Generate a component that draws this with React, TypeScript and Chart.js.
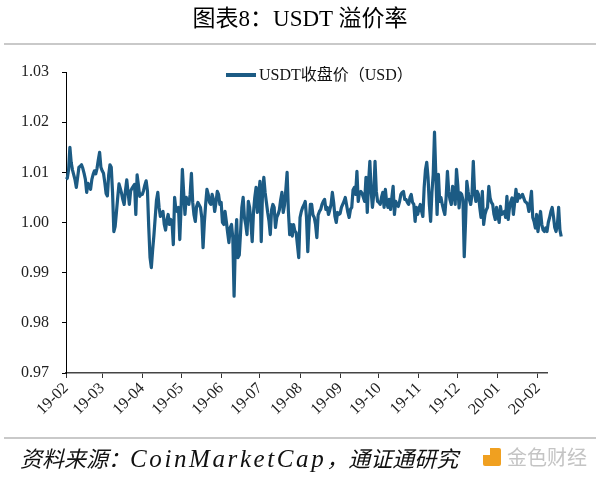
import React, { useEffect, useRef } from "react";
import { Chart, registerables } from "chart.js";

Chart.register(...registerables);

const titleText = "图表8：USDT 溢价率";
const seriesLabel = "USDT收盘价（USD）";
const sourceCjkA = "资料来源：";
const sourceLatin = "CoinMarketCap";
const sourceCjkB = "，通证通研究";
const watermarkText = "金色财经";

const startDate = "2019-02-01";
const axisEndDate = "2020-02-08";
const monthTickDates = [
  "2019-02-01", "2019-03-01", "2019-04-01", "2019-05-01", "2019-06-01", "2019-07-01", "2019-08-01",
  "2019-09-01", "2019-10-01", "2019-11-01", "2019-12-01", "2020-01-01", "2020-02-01",
];
const monthTickLabels = [
  "19-02", "19-03", "19-04", "19-05", "19-06", "19-07", "19-08",
  "19-09", "19-10", "19-11", "19-12", "20-01", "20-02",
];

const yMin = 0.97;
const yMax = 1.03;
const yStep = 0.01;

// daily closing price of USDT (USD), one value per day from 2019-02-01
const feb19 = [1.0086, 1.0088, 1.0105, 1.015, 1.012, 1.0105, 1.0095, 1.0085, 1.007, 1.009, 1.011, 1.0112, 1.0115, 1.0108, 1.0098, 1.0086, 1.006, 1.0078, 1.0072, 1.0066, 1.0086, 1.0096, 1.0103, 1.0097, 1.0108, 1.0125, 1.014, 1.011];
const mar19 = [1.0103, 1.0098, 1.008, 1.0058, 1.0053, 1.0095, 1.0115, 1.011, 1.006, 0.9982, 0.9992, 1.002, 1.005, 1.0077, 1.0068, 1.0058, 1.0045, 1.0036, 1.0064, 1.0085, 1.006, 1.0036, 1.0063, 1.0068, 1.0072, 1.0076, 1.0016, 1.0095, 1.0075, 1.0052, 1.0056];
const apr19 = [1.0056, 1.0064, 1.0075, 1.0083, 1.0063, 0.999, 0.993, 0.991, 0.9945, 0.9975, 1.001, 1.0045, 1.006, 1.003, 1.0012, 1.0018, 1.0022, 0.9996, 0.9985, 1.0005, 1.0016, 0.9996, 1.0006, 1.0, 0.9956, 1.005, 1.0025, 1.0022, 1.003, 0.9966];
const may19 = [1.003, 1.0106, 1.006, 1.0016, 1.005, 1.004, 1.0036, 1.0056, 1.0098, 1.004, 1.0015, 1.0002, 1.0032, 1.004, 1.0035, 1.003, 1.001, 0.995, 1.0, 1.0036, 1.0066, 1.0056, 1.004, 1.0036, 1.0056, 1.0046, 1.0022, 1.004, 1.0062, 1.0056, 1.0036];
const jun19 = [1.004, 1.0, 0.9996, 1.0022, 1.0002, 0.998, 0.996, 0.999, 0.9996, 0.997, 0.9853, 0.996, 1.0006, 0.993, 0.9935, 0.998, 1.003, 1.005, 1.001, 0.9996, 0.9976, 1.0042, 1.003, 1.0, 0.9962, 1.002, 1.005, 1.007, 1.002, 1.0056];
const jul19 = [1.0082, 0.9962, 1.0062, 1.009, 1.006, 1.004, 1.002, 1.0003, 0.9976, 1.0025, 1.0036, 1.003, 0.999, 1.001, 1.0016, 1.0025, 1.0045, 1.006, 1.002, 1.0035, 1.0065, 1.01, 1.0022, 0.9976, 0.9996, 0.9973, 0.9996, 0.9983, 0.998, 0.9955, 0.993];
const aug19 = [1.001, 1.0022, 1.003, 1.0035, 1.0042, 1.001, 0.9942, 1.0, 1.0036, 1.0036, 1.0015, 1.001, 0.9996, 0.997, 1.0015, 1.0022, 1.0026, 1.0036, 1.0042, 1.0046, 1.0026, 1.003, 1.0016, 1.0025, 1.0036, 1.006, 1.004, 1.0012, 1.0, 1.002, 1.0016];
const sep19 = [1.0018, 1.003, 1.0036, 1.0042, 1.005, 1.0035, 1.002, 1.001, 1.0026, 1.003, 1.0065, 1.007, 1.0056, 1.0102, 1.0042, 1.006, 1.0062, 1.0058, 1.005, 1.0042, 1.009, 1.002, 1.008, 1.0122, 1.0062, 1.003, 1.0056, 1.0122, 1.0062, 1.0042];
const oct19 = [1.004, 1.0036, 1.005, 1.006, 1.003, 1.0066, 1.004, 1.003, 1.0046, 1.0026, 1.005, 1.0072, 1.0016, 1.0042, 1.0036, 1.0032, 1.0042, 1.0056, 1.006, 1.0062, 1.0046, 1.0046, 1.004, 1.0036, 1.005, 1.0056, 1.004, 1.0036, 1.0002, 1.003, 1.0016];
const nov19 = [1.0028, 1.0036, 1.0022, 1.0012, 1.007, 1.0105, 1.012, 1.009, 1.0036, 1.0002, 1.006, 1.0096, 1.018, 1.0096, 1.0016, 1.0096, 1.0042, 1.005, 1.0036, 1.0025, 1.0016, 1.005, 1.0102, 1.0062, 1.0045, 1.0036, 1.0072, 1.0062, 1.0036, 1.0106];
const dec19 = [1.0075, 1.0029, 1.0059, 1.0056, 1.0045, 0.9932, 1.0, 1.0082, 1.0062, 1.0045, 1.0036, 1.0056, 1.0122, 1.006, 1.0042, 1.0062, 1.0056, 1.003, 1.001, 1.0062, 0.9996, 1.0016, 1.0025, 1.003, 1.0072, 1.0049, 1.004, 1.0036, 1.0016, 1.0006, 1.003];
const jan20 = [1.0015, 1.0, 1.0032, 1.0016, 1.002, 1.0022, 1.001, 1.0052, 1.0006, 1.003, 1.0042, 1.0049, 1.0016, 1.004, 1.0066, 1.0042, 1.0056, 1.0049, 1.0052, 1.0056, 1.0049, 1.0042, 1.004, 1.0036, 1.0022, 1.0042, 1.0062, 1.001, 1.0002, 0.9989, 1.0016];
const feb20 = [0.9982, 1.0002, 1.0022, 0.9996, 0.9985, 0.9982, 0.9989, 0.9982, 1.0, 1.001, 1.0022, 1.003, 1.0012, 0.999, 0.9982, 0.9995, 1.003, 0.9985, 0.9972];

const usdtClose = [...feb19, ...mar19, ...apr19, ...may19, ...jun19, ...jul19, ...aug19, ...sep19, ...oct19, ...nov19, ...dec19, ...jan20, ...feb20];

const LINE_COLOR = "#1C5B84";
const SERIF = "'Liberation Serif', 'Times New Roman', 'Noto Sans CJK SC', serif";

const dayIndex = (d: string) => Math.round((Date.parse(d) - Date.parse(startDate)) / 86400000);

export default function App() {
  const ref = useRef<HTMLCanvasElement | null>(null);

  useEffect(() => {
    if (!ref.current) return;
    const tickDays = monthTickDates.map(dayIndex);
    const endDay = dayIndex(axisEndDate);
    const points = usdtClose.map((v, i) => ({ x: i, y: v }));

    const chart = new Chart(ref.current, {
      type: "line",
      data: {
        datasets: [
          {
            label: seriesLabel,
            data: points,
            borderColor: LINE_COLOR,
            backgroundColor: LINE_COLOR,
            borderWidth: 3.2,
            pointRadius: 0,
            tension: 0,
            clip: false as any,
            borderJoinStyle: "round",
          },
        ],
      },
      options: {
        animation: false,
        responsive: false,
        maintainAspectRatio: false,
        layout: { padding: { top: 72, right: 53, bottom: 0, left: 0 } },
        plugins: { legend: { display: false }, tooltip: { enabled: false }, title: { display: false } },
        scales: {
          x: {
            type: "linear",
            bounds: "data",
            afterDataLimits: (s: any) => {
              s.min = 0;
              s.max = endDay;
            },
            afterBuildTicks: (s: any) => {
              s.ticks = tickDays.map((v) => ({ value: v }));
            },
            afterFit: (s: any) => {
              s.height = 104;
            },
            ticks: {
              autoSkip: false,
              maxRotation: 45,
              minRotation: 45,
              padding: 1,
              color: "#222",
              font: { family: SERIF, size: 16 },
              callback: (v: any) => {
                const i = tickDays.indexOf(Number(v));
                return i >= 0 ? monthTickLabels[i] : "";
              },
            },
            grid: { drawOnChartArea: false, drawTicks: true, tickLength: 5, color: "#333", lineWidth: 1 },
            border: { display: true, color: "#444", width: 1.5 },
          },
          y: {
            min: yMin,
            max: yMax,
            afterFit: (s: any) => {
              s.width = 66;
            },
            ticks: {
              stepSize: yStep,
              padding: 13,
              color: "#222",
              font: { family: SERIF, size: 16 },
              callback: (v: any) => Number(v).toFixed(2),
            },
            grid: { drawOnChartArea: false, drawTicks: true, tickLength: 4, color: "#000", lineWidth: 1 },
            border: { display: true, color: "#000", width: 1 },
          },
        },
      },
    });
    return () => chart.destroy();
  }, []);

  return (
    <div style={{ position: "absolute", left: 0, top: 0, width: 600, height: 477, background: "#fff", overflow: "hidden" }}>
      <canvas ref={ref} width={600} height={477} style={{ position: "absolute", left: 0, top: 0, width: 600, height: 477 }} />
      <div
        style={{
          position: "absolute", left: 0, top: 5, width: 600, textAlign: "center",
          fontFamily: SERIF, fontSize: 23, lineHeight: "28px", color: "#000",
        }}
      >
        {titleText}
      </div>
      <div style={{ position: "absolute", left: 4, top: 43, width: 592, height: 2, background: "#c9c9c9" }} />
      <div style={{ position: "absolute", left: 226, top: 73, width: 30, height: 4, background: LINE_COLOR }} />
      <div
        style={{
          position: "absolute", left: 259, top: 66, fontFamily: SERIF, fontSize: 16,
          lineHeight: "18px", color: "#111", whiteSpace: "nowrap",
        }}
      >
        {seriesLabel}
      </div>
      <div style={{ position: "absolute", left: 4, top: 437, width: 592, height: 2, background: "#c9c9c9" }} />
      <div
        style={{
          position: "absolute", left: 20, top: 446, fontFamily: SERIF, fontSize: 22, fontStyle: "italic",
          lineHeight: "26px", color: "#111", whiteSpace: "nowrap",
        }}
      >
        <span>{sourceCjkA}</span>
        <span style={{ letterSpacing: "2.6px", fontSize: 25 }}>{sourceLatin}</span>
        <span>{sourceCjkB}</span>
      </div>
      <div style={{ position: "absolute", left: 483, top: 448, width: 18, height: 18, background: "#F0A020", borderRadius: 2 }}>
        <div style={{ position: "absolute", left: 0, top: 0, width: 7, height: 7, background: "#fff" }} />
      </div>
      <div
        style={{
          position: "absolute", left: 507, top: 444, fontFamily: "'Noto Sans CJK SC', sans-serif", fontSize: 20,
          lineHeight: "26px", color: "#c4c4c4", whiteSpace: "nowrap",
        }}
      >
        {watermarkText}
      </div>
    </div>
  );
}
